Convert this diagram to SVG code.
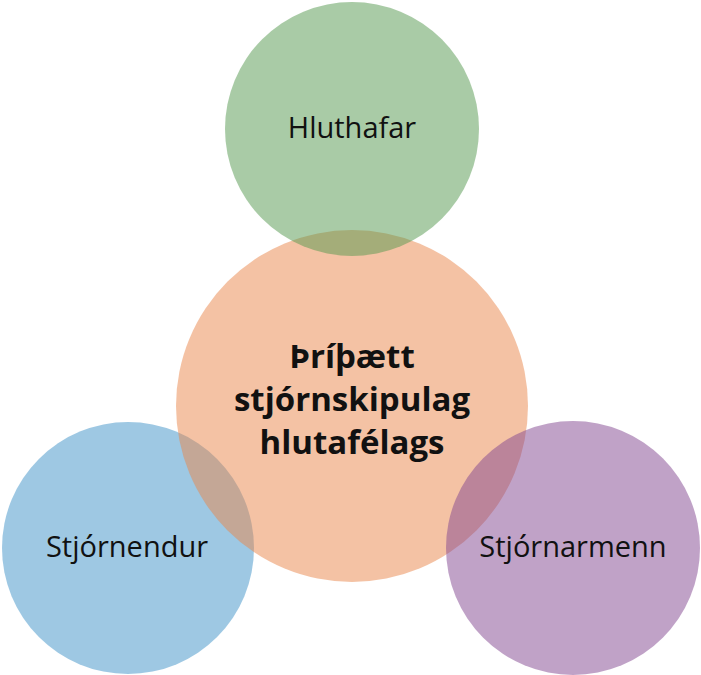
<svg xmlns="http://www.w3.org/2000/svg" width="701" height="675" viewBox="0 0 701 675">
<style>
.c{fill-opacity:0.5}
.lbl{font-family:"Open Sans","Noto Sans",sans-serif;font-size:29px;fill:#111;text-anchor:middle}
.mid{font-family:"Open Sans","Noto Sans",sans-serif;font-size:33px;font-weight:bold;fill:#111;text-anchor:middle}
</style>
<rect width="701" height="675" fill="#fff"/>
<g id="stjornendur"><circle class="c" cx="128" cy="548" r="126" fill="#3d91c7"/></g>
<g id="thripaett"><circle class="c" cx="352" cy="406" r="176" fill="#e9854a"/></g>
<g id="hluthafar"><circle class="c" cx="352" cy="129" r="127" fill="#53974d"/></g>
<g id="stjornarmenn"><circle class="c" cx="573" cy="548" r="127" fill="#81458f"/></g>
<g id="labels">
<text class="lbl" x="352" y="138">Hluthafar</text>
<text class="lbl" x="127" y="557">Stjórnendur</text>
<text class="lbl" x="573" y="557">Stjórnarmenn</text>
<text class="mid" x="352" y="368">Þríþætt</text>
<text class="mid" x="352" y="411">stjórnskipulag</text>
<text class="mid" x="352" y="454">hlutafélags</text>
</g>
<g id="connectors"></g>
</svg>
